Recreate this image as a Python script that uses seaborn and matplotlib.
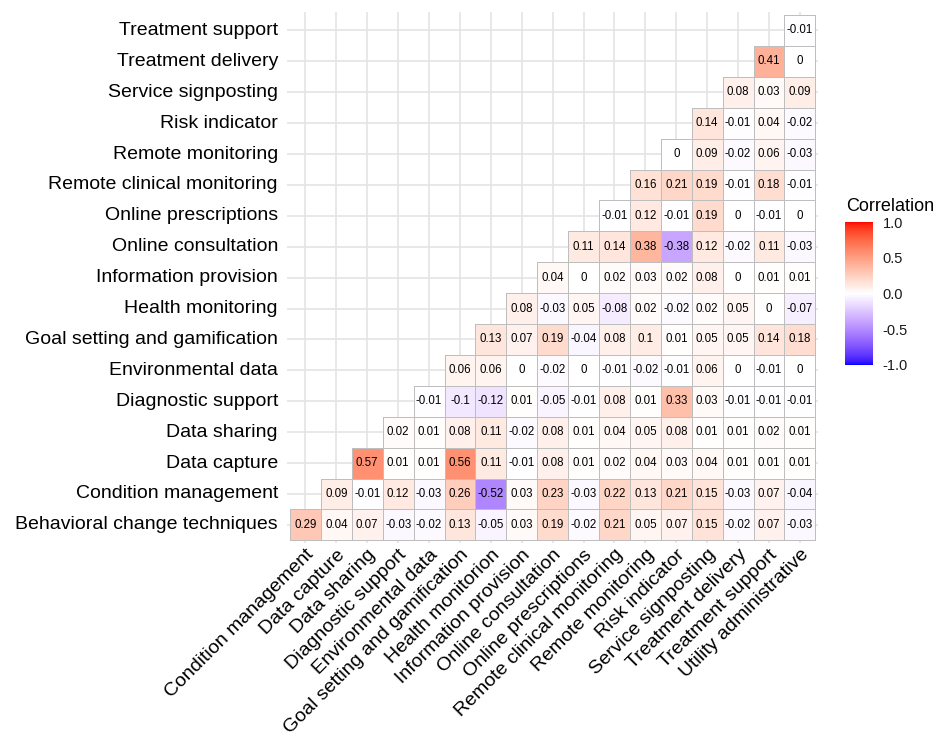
import numpy as np
import pandas as pd
import matplotlib
matplotlib.use("Agg")
import matplotlib.pyplot as plt
from matplotlib.colors import ListedColormap, to_rgba
import seaborn as sns

# Row labels (y axis, bottom to top) and column labels (x axis, left to right)
row_labels = [
    "Behavioral change techniques", "Condition management", "Data capture",
    "Data sharing", "Diagnostic support", "Environmental data",
    "Goal setting and gamification", "Health monitoring", "Information provision",
    "Online consultation", "Online prescriptions", "Remote clinical monitoring",
    "Remote monitoring", "Risk indicator", "Service signposting",
    "Treatment delivery", "Treatment support",
]
col_labels = [
    "Condition management", "Data capture", "Data sharing", "Diagnostic support",
    "Environmental data", "Goal setting and gamification", "Health monitorion",
    "Information provision", "Online consultation", "Online prescriptions",
    "Remote clinical monitoring", "Remote monitoring", "Risk indicator",
    "Service signposting", "Treatment delivery", "Treatment support",
    "Utility administrative",
]

# Correlations for each row, running from its diagonal cell to the right edge
behavioral_change = [0.29, 0.04, 0.07, -0.03, -0.02, 0.13, -0.05, 0.03, 0.19, -0.02, 0.21, 0.05, 0.07, 0.15, -0.02, 0.07, -0.03]
condition_mgmt = [0.09, -0.01, 0.12, -0.03, 0.26, -0.52, 0.03, 0.23, -0.03, 0.22, 0.13, 0.21, 0.15, -0.03, 0.07, -0.04]
data_capture = [0.57, 0.01, 0.01, 0.56, 0.11, -0.01, 0.08, 0.01, 0.02, 0.04, 0.03, 0.04, 0.01, 0.01, 0.01]
data_sharing = [0.02, 0.01, 0.08, 0.11, -0.02, 0.08, 0.01, 0.04, 0.05, 0.08, 0.01, 0.01, 0.02, 0.01]
diagnostic_support = [-0.01, -0.1, -0.12, 0.01, -0.05, -0.01, 0.08, 0.01, 0.33, 0.03, -0.01, -0.01, -0.01]
environmental_data = [0.06, 0.06, 0, -0.02, 0, -0.01, -0.02, -0.01, 0.06, 0, -0.01, 0]
goal_setting = [0.13, 0.07, 0.19, -0.04, 0.08, 0.1, 0.01, 0.05, 0.05, 0.14, 0.18]
health_monitoring = [0.08, -0.03, 0.05, -0.08, 0.02, -0.02, 0.02, 0.05, 0, -0.07]
information_provision = [0.04, 0, 0.02, 0.03, 0.02, 0.08, 0, 0.01, 0.01]
online_consultation = [0.11, 0.14, 0.38, -0.38, 0.12, -0.02, 0.11, -0.03]
online_prescriptions = [-0.01, 0.12, -0.01, 0.19, 0, -0.01, 0]
remote_clinical = [0.16, 0.21, 0.19, -0.01, 0.18, -0.01]
remote_monitoring = [0, 0.09, -0.02, 0.06, -0.03]
risk_indicator = [0.14, -0.01, 0.04, -0.02]
service_signposting = [0.08, 0.03, 0.09]
treatment_delivery = [0.41, 0]
treatment_support = [-0.01]

rows_bottom_up = [
    behavioral_change, condition_mgmt, data_capture, data_sharing,
    diagnostic_support, environmental_data, goal_setting, health_monitoring,
    information_provision, online_consultation, online_prescriptions,
    remote_clinical, remote_monitoring, risk_indicator, service_signposting,
    treatment_delivery, treatment_support,
]

n = len(col_labels)
mat = np.full((len(row_labels), n), np.nan)
for i, vals in enumerate(rows_bottom_up):
    mat[i, n - len(vals):] = vals

# heatmap rows go top to bottom
df = pd.DataFrame(mat[::-1], index=row_labels[::-1], columns=col_labels)
mask = df.isna()


def fmt_val(v):
    if np.isnan(v):
        return ""
    s = f"{round(v, 2):.2f}".rstrip("0").rstrip(".")
    return "0" if s in ("-0", "") else s


annot = np.vectorize(fmt_val)(df.values)


# Blue-white-red diverging palette interpolated in CIE Lab space
def srgb_to_lab(rgb):
    rgb = np.asarray(rgb, float)
    c = np.where(rgb <= 0.04045, rgb / 12.92, ((rgb + 0.055) / 1.055) ** 2.4)
    M = np.array([[0.4124564, 0.3575761, 0.1804375],
                  [0.2126729, 0.7151522, 0.0721750],
                  [0.0193339, 0.1191920, 0.9503041]])
    xyz = c @ M.T / np.array([0.95047, 1.0, 1.08883])
    d = 6 / 29
    f = np.where(xyz > d ** 3, np.cbrt(xyz), xyz / (3 * d * d) + 4 / 29)
    return np.stack([116 * f[..., 1] - 16,
                     500 * (f[..., 0] - f[..., 1]),
                     200 * (f[..., 1] - f[..., 2])], axis=-1)


def lab_to_srgb(lab):
    lab = np.asarray(lab, float)
    fy = (lab[..., 0] + 16) / 116
    fx = fy + lab[..., 1] / 500
    fz = fy - lab[..., 2] / 200
    f = np.stack([fx, fy, fz], axis=-1)
    d = 6 / 29
    xyz = np.where(f > d, f ** 3, 3 * d * d * (f - 4 / 29)) * np.array([0.95047, 1.0, 1.08883])
    Minv = np.array([[3.2404542, -1.5371385, -0.4985314],
                     [-0.9692660, 1.8760108, 0.0415560],
                     [0.0556434, -0.2040259, 1.0572252]])
    c = xyz @ Minv.T
    c = np.clip(c, 0, 1)
    return np.where(c <= 0.0031308, 12.92 * c, 1.055 * c ** (1 / 2.4) - 0.055).clip(0, 1)


lab_blue = srgb_to_lab([0, 0, 1])
lab_white = srgb_to_lab([1, 1, 1])
lab_red = srgb_to_lab([1, 0, 0])
t = np.linspace(0, 1, 256)[:, None]
lower = lab_blue + (lab_white - lab_blue) * t
upper = lab_white + (lab_red - lab_white) * t
cmap = ListedColormap(np.vstack([lab_to_srgb(lower), lab_to_srgb(upper)]))

sns.set_theme(style="white")
plt.rcParams["font.family"] = ["Liberation Sans", "DejaVu Sans"]

W, H = 936, 753
fig = plt.figure(figsize=(W / 100, H / 100), dpi=100)

cell = 30.9
x0, y0 = 290.0, 15.0
pad = 0.1 * cell
ax_left, ax_right = x0 - pad, x0 + n * cell + pad
ax_top, ax_bottom = y0 - pad, y0 + len(row_labels) * cell + pad
ax = fig.add_axes([ax_left / W, 1 - ax_bottom / H,
                   (ax_right - ax_left) / W, (ax_bottom - ax_top) / H])
cax = fig.add_axes([845 / W, 1 - 365 / H, 28 / W, 143 / H])

sns.heatmap(df, mask=mask, cmap=cmap, vmin=-1, vmax=1, center=None,
            annot=annot, fmt="", annot_kws={"size": 8.3, "color": "black"},
            linewidths=0.7, linecolor="#BEBEBE", square=False,
            cbar_ax=cax, ax=ax)

# outline only the drawn (upper-triangle) tiles
mesh = ax.collections[0]
edge = np.array(to_rgba("#BEBEBE"))
edges = np.tile(edge, (mask.size, 1))
edges[mask.values.ravel()] = (0, 0, 0, 0)
mesh.set_edgecolors(edges)

ax.set_xlim(-0.1, n + 0.1)
ax.set_ylim(len(row_labels) + 0.1, -0.1)
ax.set_axisbelow(True)
ax.grid(True, color="#E4E4E4", linewidth=1.2)
for s in ax.spines.values():
    s.set_visible(False)
ax.set_xlabel("")
ax.set_ylabel("")
ax.tick_params(axis="both", length=0)
ax.tick_params(axis="y", pad=6.5, labelsize=14, labelcolor="black")
ax.tick_params(axis="x", pad=2, labelsize=14, labelcolor="black")
ax.set_yticklabels(df.index, rotation=0)
ax.set_xticklabels(df.columns, rotation=45, ha="right", va="top",
                   rotation_mode="anchor")

cbar = mesh.colorbar
cbar.outline.set_visible(False)
cbar.set_ticks([-1, -0.5, 0, 0.5, 1])
cbar.set_ticklabels(["-1.0", "-0.5", "0.0", "0.5", "1.0"])
cax.tick_params(axis="y", direction="in", length=5, width=0.8, color="white",
                left=True, right=True, labelleft=False, labelright=True,
                labelsize=10.5, labelcolor="#1a1a1a", pad=7)

fig.text(846 / W, 1 - 211 / H, "Correlation", fontsize=13, ha="left",
         va="baseline", color="black")

fig.savefig("out.png", dpi=100, facecolor="white")
